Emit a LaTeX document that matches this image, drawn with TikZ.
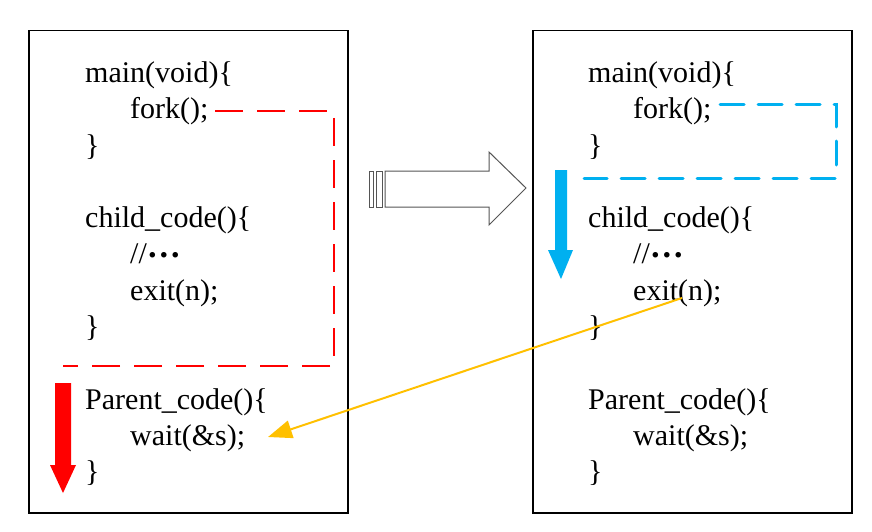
\documentclass[tikz,border=0pt]{standalone}
\usepackage{fontspec}
\setmainfont{Liberation Serif}
\usetikzlibrary{arrows.meta}
\definecolor{ored}{HTML}{FF0000}
\definecolor{oblue}{HTML}{00B0F0}
\definecolor{oyellow}{HTML}{FFC000}
\definecolor{ogray}{HTML}{555555}
\newcommand{\mydots}{\raisebox{0.2em}{\bfseries\fontsize{34}{36}\selectfont …}}
\begin{document}
\begin{tikzpicture}[x=1pt,y=-1pt,
  code/.style={anchor=base west, inner sep=0pt, font=\fontsize{30}{36}\selectfont},
  panel/.style={draw=black, line width=1.5pt, minimum width=319pt, minimum height=482pt, anchor=north west, inner sep=0pt},
  reddash/.style={draw=ored, line width=2.5pt, dash pattern=on 28pt off 14pt},
  bluedash/.style={draw=oblue, line width=3pt, dash pattern=on 24pt off 14pt, line cap=round}
]
\useasboundingbox (0,0) rectangle (872,532);
\fill[white] (0,0) rectangle (872,532);
% panels
\node[panel] (lbox) at (28,30) {};
\node[panel] (rbox) at (532,30) {};
% left code
\node[code] (lmain)  at (85,83)  {main(void)\{};
\node[code] (lfork)  at (130,119) {fork();};
\node[code] (lend1)  at (85,155) {\}};
\node[code] (lchild) at (85,227) {child\_code()\{};
\node[code] (lcom)   at (130,263) {//\mydots};
\node[code] (lexit)  at (130,300) {exit(n);};
\node[code] (lend2)  at (85,336) {\}};
\node[code] (lpar)   at (85,409) {Parent\_code()\{};
\node[code] (lwait)  at (130,445) {wait(\&s);};
\node[code] (lend3)  at (85,481) {\}};
% right code
\node[code] (rmain)  at (588,83)  {main(void)\{};
\node[code] (rfork)  at (633,119) {fork();};
\node[code] (rend1)  at (588,155) {\}};
\node[code] (rchild) at (588,227) {child\_code()\{};
\node[code] (rcom)   at (633,263) {//\mydots};
\node[code] (rexit)  at (633,300) {exit(n);};
\node[code] (rend2)  at (588,336) {\}};
\node[code] (rpar)   at (588,409) {Parent\_code()\{};
\node[code] (rwait)  at (633,445) {wait(\&s);};
\node[code] (rend3)  at (588,481) {\}};
% red dashed fork path
\draw[reddash] (215,111) -- (334,111) -- (334,366) -- (63,366);
% blue dashed fork path
\draw[bluedash] (720,105) -- (836,105) -- (836,178) -- (584,178);
% red thick arrow
\fill[ored] (55,383) -- (71,383) -- (71,465) -- (76,465) -- (63,493) -- (50,465) -- (55,465) -- cycle;
% blue thick arrow
\fill[oblue] (555,170) -- (567,170) -- (567,250) -- (573,250) -- (561,279) -- (548,250) -- (555,250) -- cycle;
% yellow arrow from exit to wait
\coordinate (exitpt) at (682,298);
\coordinate (waitpt) at (268,437);
\draw[oyellow, line width=2pt, -{Triangle[length=24pt,width=18pt]}] (exitpt) -- (waitpt);
% hollow block arrow in the middle
\draw[ogray, line width=1pt] (369,171) rectangle (373,207);
\draw[ogray, line width=1pt] (376,171) rectangle (382,207);
\draw[ogray, line width=1pt, fill=white] (385,171) -- (489,171) -- (489,152) -- (526,188) -- (489,225) -- (489,207) -- (385,207) -- cycle;
\end{tikzpicture}
\end{document}
